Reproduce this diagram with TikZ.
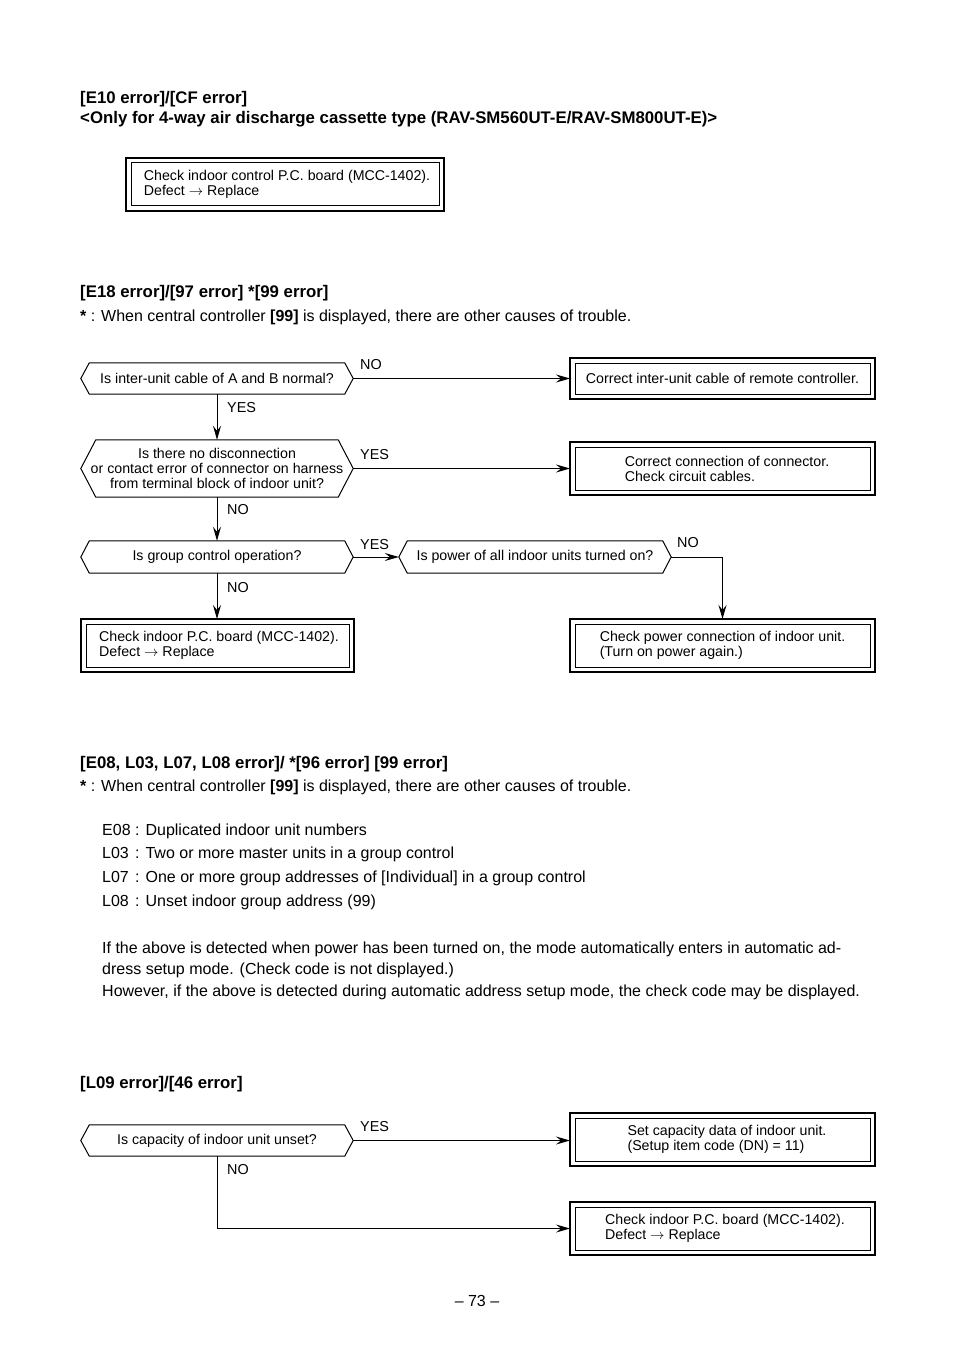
\documentclass[tikz,border=0pt]{standalone}
\usepackage{fontspec}
\setmainfont{Liberation Sans}
\usetikzlibrary{arrows.meta}
\newcommand\rsbody{\fontsize{16}{23}\selectfont}
\newcommand\rshead{\fontsize{16.8}{20}\selectfont\bfseries}
\newcommand\rsbox{\fontsize{14.2}{15}\selectfont}
\newcommand\rslbl{\fontsize{14.4}{15}\selectfont}
\newcommand\rsdec[2]{%
  \draw[dline] (#1.north west) -- (#1.north east) -- ([xshift=#2]#1.east) -- (#1.south east) -- (#1.south west) -- ([xshift=-#2]#1.west) -- cycle;
  \coordinate (#1-r) at ([xshift=#2]#1.east);
  \coordinate (#1-l) at ([xshift=-#2]#1.west);}
\newcommand\rsinner[1]{%
  \draw[line width=1pt] ([xshift=5pt,yshift=-5pt]#1.north west) rectangle ([xshift=-5pt,yshift=5pt]#1.south east);
  \draw[line width=2pt] ([xshift=-0.5pt]#1.south west) -- ([xshift=0.5pt]#1.south east);}
\tikzset{
  txt/.style={inner sep=0pt, anchor=base west, font=\rsbody},
  hd/.style={inner sep=0pt, anchor=base west, font=\rshead},
  lbl/.style={inner sep=0pt, anchor=base west, font=\rslbl},
  dbox/.style={draw, line width=1.1pt, align=left, inner sep=0pt, outer sep=0pt, font=\rsbox},
  decn/.style={inner sep=0pt, align=center, font=\rsbox, minimum width=255pt, minimum height=31pt},
  dline/.style={line width=1pt, line join=miter},
  arr/.style={line width=1pt, -{Stealth[length=14pt,width=8pt,inset=5pt]}}
}
\begin{document}
\begin{tikzpicture}[x=1pt,y=-1pt]
\fill[white] (0,0) rectangle (954,1348);
\useasboundingbox (0,0) rectangle (954,1348);

% Section 1
\node[hd] (t1) at (80,104) {[E10 error]/[CF error]};
\node[hd] (t2) at (80,124) {<Only for 4-way air discharge cassette type (RAV-SM560UT-E/RAV-SM800UT-E)>};
\node[dbox, minimum width=318pt, minimum height=53pt] (b1) at (285,184.5) {\hspace*{4pt}Check indoor control P.C. board (MCC-1402).\\\hspace*{4pt}Defect $\rightarrow$ Replace};
\rsinner{b1}

% Section 2
\node[hd] (t3) at (80,297) {[E18 error]/[97 error] *[99 error]};
\node[txt] (n1) at (80,321) {\textbf{*} : When central controller \textbf{[99]} is displayed, there are other causes of trouble.};

\node[decn] (d1) at (217,378.5) {Is inter-unit cable of A and B normal?};
\rsdec{d1}{8.5pt}
\node[decn, minimum width=242pt, minimum height=57pt] (d2) at (217,468.5) {};
\rsdec{d2}{15pt}
\node[inner sep=0pt, align=center, font=\rsbox] (d2t) at (d2) {Is there no disconnection\\or contact error of connector on harness\\from terminal block of indoor unit?};
\node[decn, minimum height=32pt] (d3) at (217,557) {Is group control operation?};
\rsdec{d3}{8.5pt}
\node[decn, minimum height=32pt] (d4) at (535,557) {Is power of all indoor units turned on?};
\rsdec{d4}{8.5pt}

\node[dbox, minimum width=305pt, minimum height=41pt] (bA) at (722.5,378.5) {Correct inter-unit cable of remote controller.};
\rsinner{bA}
\node[dbox, minimum width=305pt, minimum height=53pt] (bB) at (722.5,468.5) {\hspace*{9pt}Correct connection of connector.\\\hspace*{9pt}Check circuit cables.};
\rsinner{bB}
\node[dbox, minimum width=273pt, minimum height=53pt] (bC) at (217.5,645.5) {\hspace*{3pt}Check indoor P.C. board (MCC-1402).\\\hspace*{3pt}Defect $\rightarrow$ Replace};
\rsinner{bC}
\node[dbox, minimum width=305pt, minimum height=53pt] (bD) at (722.5,645.5) {Check power connection of indoor unit.\\(Turn on power again.)};
\rsinner{bD}

\draw[arr] (d1-r) -- (bA.west);
\draw[arr] (d1.south) -- (d2.north);
\draw[arr] (d2-r) -- (bB.west);
\draw[arr] (d2.south) -- (d3.north);
\draw[arr] (d3-r) -- (d4-l);
\draw[arr] (d3.south) -- (d3.south |- bC.north);
\draw[arr] (d4-r) -| (bD.north);

\node[lbl] (l1) at (360,369) {NO};
\node[lbl] (l2) at (227,412) {YES};
\node[lbl] (l3) at (360,459) {YES};
\node[lbl] (l4) at (227,514) {NO};
\node[lbl] (l5) at (360,549) {YES};
\node[lbl] (l6) at (677,547) {NO};
\node[lbl] (l7) at (227,592) {NO};

% Section 3
\node[hd] (t4) at (80,768) {[E08, L03, L07, L08 error]/ *[96 error] [99 error]};
\node[txt] (n2) at (80,791) {\textbf{*} : When central controller \textbf{[99]} is displayed, there are other causes of trouble.};
\node[txt] (c1) at (102,835) {E08};
\node[txt] (e1) at (135,835) {: Duplicated indoor unit numbers};
\node[txt] (c2) at (102,858) {L03};
\node[txt] (e2) at (135,858) {: Two or more master units in a group control};
\node[txt] (c3) at (102,882) {L07};
\node[txt] (e3) at (135,882) {: One or more group addresses of [Individual] in a group control};
\node[txt] (c4) at (102,906) {L08};
\node[txt] (e4) at (135,906) {: Unset indoor group address (99)};
\node[txt] (p1) at (102,953) {If the above is detected when power has been turned on, the mode automatically enters in automatic ad-};
\node[txt] (p2) at (102,974) {dress setup mode. (Check code is not displayed.)};
\node[txt] (p3) at (102,996) {However, if the above is detected during automatic address setup mode, the check code may be displayed.};

% Section 4
\node[hd] (t5) at (80,1088) {[L09 error]/[46 error]};
\node[decn] (d5) at (217,1140.5) {Is capacity of indoor unit unset?};
\rsdec{d5}{8.5pt}
\node[dbox, minimum width=305pt, minimum height=53pt] (bE) at (722.5,1139.5) {\hspace*{9pt}Set capacity data of indoor unit.\\\hspace*{9pt}(Setup item code (DN) = 11)};
\rsinner{bE}
\node[dbox, minimum width=305pt, minimum height=53pt] (bF) at (722.5,1228.5) {\hspace*{5pt}Check indoor P.C. board (MCC-1402).\\\hspace*{5pt}Defect $\rightarrow$ Replace};
\rsinner{bF}
\draw[arr] (d5-r) -- (d5-r -| bE.west);
\draw[arr] (d5.south) |- (bF.west);
\node[lbl] (l8) at (360,1131) {YES};
\node[lbl] (l9) at (227,1174) {NO};

\node[txt, anchor=base] (pg) at (477,1306) {– 73 –};
\end{tikzpicture}
\end{document}
